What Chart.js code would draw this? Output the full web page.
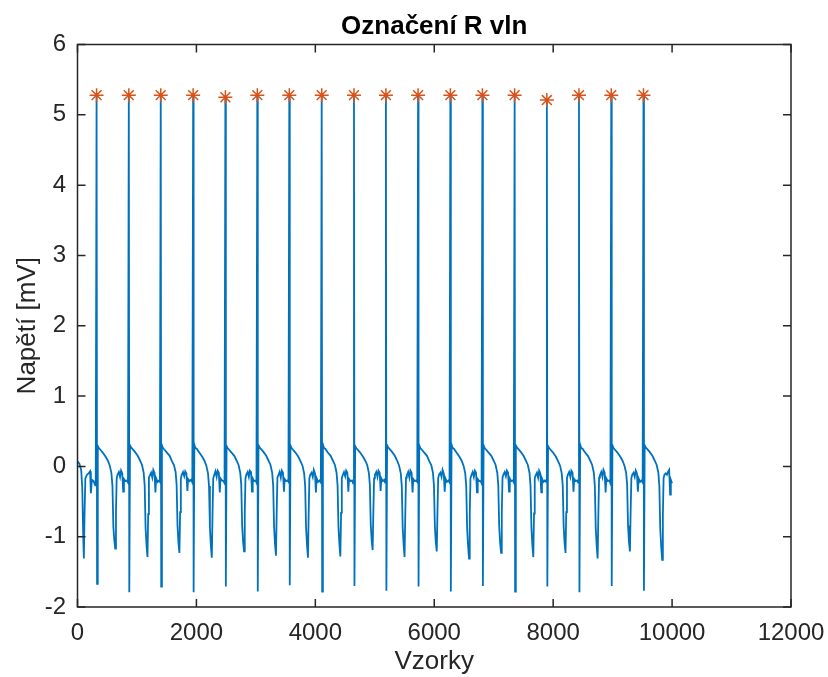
<!DOCTYPE html>
<html>
<head>
<meta charset="utf-8">
<title>Označení R vln</title>
<script src="https://cdn.jsdelivr.net/npm/chart.js@4"></script>
<style>
  html, body { margin: 0; padding: 0; background: #fff; }
  #wrap { width: 828px; height: 677px; }
</style>
</head>
<body>
<div id="wrap"><canvas id="chart" width="828" height="677"></canvas></div>
<script>
// R peak positions (sample index) and their amplitudes [mV]
const rPeakX = [321, 863, 1400, 1945, 2487, 3024, 3562, 4107, 4650, 5187, 5728, 6271, 6810, 7352, 7894, 8434, 8977, 9519];
const rPeakY = [5.28, 5.28, 5.28, 5.28, 5.25, 5.28, 5.28, 5.28, 5.28, 5.28, 5.28, 5.28, 5.28, 5.28, 5.21, 5.28, 5.28, 5.28];

// start of the record, before the first detected R wave
const leadInX = [0, 30, 62, 80, 95, 107, 118, 132, 158, 186, 212, 225, 242, 270, 298];
const leadInY = [0.07, 0.04, -0.05, -0.30, -0.95, -1.31, -0.70, -0.17, -0.12, -0.10, -0.07, -0.38, -0.19, -0.21, -0.27];

// sample offsets relative to each R peak, one voltage row per beat
const beatOffsets = [-14, 0, 8, 20, 38, 60, 100, 150, 190, 222, 250, 267, 282, 298, 314, 326, 338, 352, 375, 395, 412, 432, 448, 460, 485, 510];
const beatRows = [
  [-0.24, 5.28, -1.67, 0.29, 0.26, 0.24, 0.20, 0.14, 0.08, 0.01, -0.10, -0.28, -0.86, -1.05, -1.17, -0.64, -0.17, -0.12, -0.08, -0.15, -0.06, -0.10, -0.36, -0.18, -0.21, -0.20],
  [-0.23, 5.28, -1.79, 0.30, 0.27, 0.25, 0.21, 0.15, 0.08, 0.02, -0.09, -0.27, -0.88, -1.12, -1.29, -0.68, -0.16, -0.13, -0.09, -0.16, -0.05, -0.09, -0.37, -0.17, -0.22, -0.20],
  [-0.22, 5.28, -1.71, 0.30, 0.26, 0.24, 0.20, 0.15, 0.07, 0.02, -0.08, -0.26, -0.84, -1.09, -1.23, -0.65, -0.18, -0.12, -0.08, -0.14, -0.07, -0.10, -0.35, -0.18, -0.21, -0.19],
  [-0.23, 5.28, -1.79, 0.31, 0.26, 0.25, 0.20, 0.14, 0.08, 0.01, -0.10, -0.28, -0.87, -1.13, -1.30, -0.67, -0.17, -0.13, -0.07, -0.15, -0.06, -0.09, -0.37, -0.17, -0.20, -0.21],
  [-0.24, 5.25, -1.71, 0.29, 0.26, 0.24, 0.20, 0.15, 0.08, 0.02, -0.09, -0.26, -0.84, -1.07, -1.21, -0.66, -0.17, -0.12, -0.08, -0.15, -0.06, -0.08, -0.36, -0.17, -0.21, -0.20],
  [-0.23, 5.28, -1.78, 0.30, 0.27, 0.25, 0.21, 0.15, 0.08, 0.02, -0.09, -0.27, -0.86, -1.11, -1.27, -0.66, -0.16, -0.13, -0.08, -0.16, -0.06, -0.09, -0.36, -0.18, -0.21, -0.20],
  [-0.22, 5.28, -1.69, 0.30, 0.26, 0.24, 0.20, 0.14, 0.07, 0.01, -0.10, -0.28, -0.87, -1.12, -1.30, -0.67, -0.17, -0.12, -0.09, -0.15, -0.05, -0.10, -0.37, -0.17, -0.22, -0.20],
  [-0.23, 5.28, -1.78, 0.31, 0.26, 0.25, 0.20, 0.15, 0.08, 0.02, -0.09, -0.27, -0.86, -1.11, -1.28, -0.66, -0.17, -0.13, -0.08, -0.14, -0.06, -0.09, -0.36, -0.18, -0.21, -0.20],
  [-0.24, 5.28, -1.70, 0.29, 0.26, 0.24, 0.20, 0.14, 0.08, 0.02, -0.09, -0.26, -0.83, -1.06, -1.19, -0.64, -0.17, -0.12, -0.08, -0.15, -0.06, -0.09, -0.35, -0.17, -0.21, -0.19],
  [-0.23, 5.28, -1.77, 0.30, 0.27, 0.25, 0.21, 0.15, 0.08, 0.01, -0.10, -0.28, -0.87, -1.12, -1.29, -0.67, -0.16, -0.13, -0.08, -0.16, -0.06, -0.09, -0.37, -0.18, -0.21, -0.20],
  [-0.22, 5.28, -1.71, 0.30, 0.26, 0.24, 0.20, 0.15, 0.07, 0.02, -0.09, -0.27, -0.84, -1.08, -1.21, -0.65, -0.17, -0.12, -0.09, -0.15, -0.05, -0.10, -0.36, -0.17, -0.22, -0.20],
  [-0.23, 5.28, -1.78, 0.31, 0.26, 0.25, 0.20, 0.14, 0.08, 0.01, -0.10, -0.28, -0.88, -1.13, -1.31, -0.68, -0.17, -0.13, -0.08, -0.15, -0.06, -0.09, -0.37, -0.18, -0.21, -0.21],
  [-0.24, 5.28, -1.70, 0.30, 0.26, 0.24, 0.20, 0.15, 0.08, 0.02, -0.09, -0.27, -0.85, -1.09, -1.23, -0.66, -0.16, -0.12, -0.08, -0.14, -0.06, -0.09, -0.36, -0.17, -0.21, -0.20],
  [-0.23, 5.28, -1.78, 0.30, 0.27, 0.25, 0.21, 0.15, 0.08, 0.02, -0.09, -0.27, -0.87, -1.12, -1.29, -0.67, -0.17, -0.13, -0.09, -0.16, -0.06, -0.10, -0.37, -0.17, -0.22, -0.20],
  [-0.22, 5.21, -1.71, 0.29, 0.26, 0.24, 0.20, 0.14, 0.07, 0.01, -0.10, -0.27, -0.85, -1.09, -1.23, -0.65, -0.17, -0.12, -0.08, -0.15, -0.06, -0.09, -0.36, -0.18, -0.21, -0.20],
  [-0.23, 5.28, -1.79, 0.31, 0.26, 0.25, 0.20, 0.15, 0.08, 0.02, -0.09, -0.28, -0.88, -1.13, -1.31, -0.68, -0.16, -0.13, -0.08, -0.15, -0.05, -0.09, -0.37, -0.17, -0.21, -0.20],
  [-0.24, 5.28, -1.70, 0.30, 0.26, 0.24, 0.20, 0.14, 0.08, 0.01, -0.09, -0.26, -0.84, -1.08, -1.21, -0.65, -0.17, -0.12, -0.09, -0.15, -0.06, -0.10, -0.36, -0.17, -0.22, -0.20],
  [-0.23, 5.28, -1.77, 0.30, 0.27, 0.25, 0.21, 0.15, 0.08, 0.02, -0.09, -0.28, -0.89, -1.14, -1.33, -0.69, -0.17, -0.12, -0.10, -0.12, -0.08, -0.05, -0.40, -0.19]
];

// last sample of the record
const tailX = [10000];
const tailY = [-0.24];

const xTicks = [0, 2000, 4000, 6000, 8000, 10000, 12000];
const yTicks = [-2, -1, 0, 1, 2, 3, 4, 5, 6];

const FONT = "'Liberation Sans', Arial, Helvetica, sans-serif";
const AXIS_COLOR = '#262626';

// build the ECG trace from the pieces above
const trace = leadInX.map((x, i) => ({ x: x, y: leadInY[i] }));
beatRows.forEach((row, b) => {
  row.forEach((v, k) => trace.push({ x: rPeakX[b] + beatOffsets[k], y: v }));
});
tailX.forEach((x, i) => trace.push({ x: x, y: tailY[i] }));

const peaks = rPeakX.map((x, i) => ({ x: x, y: rPeakY[i] }));

// MATLAB-like box with inward ticks on all four sides
const axesBox = {
  id: 'axesBox',
  afterDatasetsDraw(chart) {
    const { ctx, chartArea: a, scales: { x, y } } = chart;
    const len = 8;
    ctx.save();
    ctx.strokeStyle = AXIS_COLOR;
    ctx.lineWidth = 1.5;
    ctx.beginPath();
    x.ticks.forEach(t => {
      const px = x.getPixelForValue(t.value);
      ctx.moveTo(px, a.bottom); ctx.lineTo(px, a.bottom - len);
      ctx.moveTo(px, a.top); ctx.lineTo(px, a.top + len);
    });
    y.ticks.forEach(t => {
      const py = y.getPixelForValue(t.value);
      ctx.moveTo(a.left, py); ctx.lineTo(a.left + len, py);
      ctx.moveTo(a.right, py); ctx.lineTo(a.right - len, py);
    });
    ctx.stroke();
    ctx.strokeRect(a.left, a.top, a.right - a.left, a.bottom - a.top);
    ctx.restore();
  }
};

const ctx = document.getElementById('chart').getContext('2d');
new Chart(ctx, {
  type: 'line',
  data: {
    datasets: [
      {
        label: 'R vlny',
        data: peaks,
        showLine: false,
        pointStyle: 'star',
        pointRadius: 7,
        pointBorderWidth: 1.5,
        borderColor: '#D95319',
        backgroundColor: '#D95319',
        order: 0
      },
      {
        label: 'EKG',
        data: trace,
        borderColor: '#0072BD',
        borderWidth: 1.8,
        pointRadius: 0,
        tension: 0,
        fill: false,
        order: 1
      }
    ]
  },
  options: {
    responsive: false,
    animation: false,
    layout: { padding: { left: 0, right: 37, top: 0, bottom: 0 } },
    plugins: {
      legend: { display: false },
      tooltip: { enabled: false },
      title: {
        display: true,
        fullSize: false,
        text: 'Označení R vln',
        color: '#000',
        font: { family: FONT, size: 26, weight: 'bold', lineHeight: 1 },
        padding: { top: 14, bottom: 4.5 }
      }
    },
    scales: {
      x: {
        type: 'linear',
        min: 0,
        max: 12000,
        afterBuildTicks: s => { s.ticks = xTicks.map(v => ({ value: v })); },
        afterFit: s => { s.height = 70; s.paddingRight = 37; },
        grid: { display: false, drawTicks: false },
        border: { display: false },
        ticks: {
          color: AXIS_COLOR,
          font: { family: FONT, size: 24 },
          padding: 12,
          maxRotation: 0,
          callback: v => String(v)
        },
        title: {
          display: true,
          text: 'Vzorky',
          color: AXIS_COLOR,
          font: { family: FONT, size: 26 },
          padding: { top: 0, bottom: 0 }
        }
      },
      y: {
        type: 'linear',
        min: -2,
        max: 6,
        afterBuildTicks: s => { s.ticks = yTicks.map(v => ({ value: v })); },
        afterFit: s => { s.width = 77.5; },
        grid: { display: false, drawTicks: false },
        border: { display: false },
        ticks: {
          color: AXIS_COLOR,
          font: { family: FONT, size: 24 },
          padding: 11.5,
          callback: v => String(v)
        },
        title: {
          display: true,
          text: 'Napětí [mV]',
          color: AXIS_COLOR,
          font: { family: FONT, size: 26 },
          padding: { top: 12, bottom: 0 }
        }
      }
    }
  },
  plugins: [axesBox]
});
</script>
</body>
</html>
